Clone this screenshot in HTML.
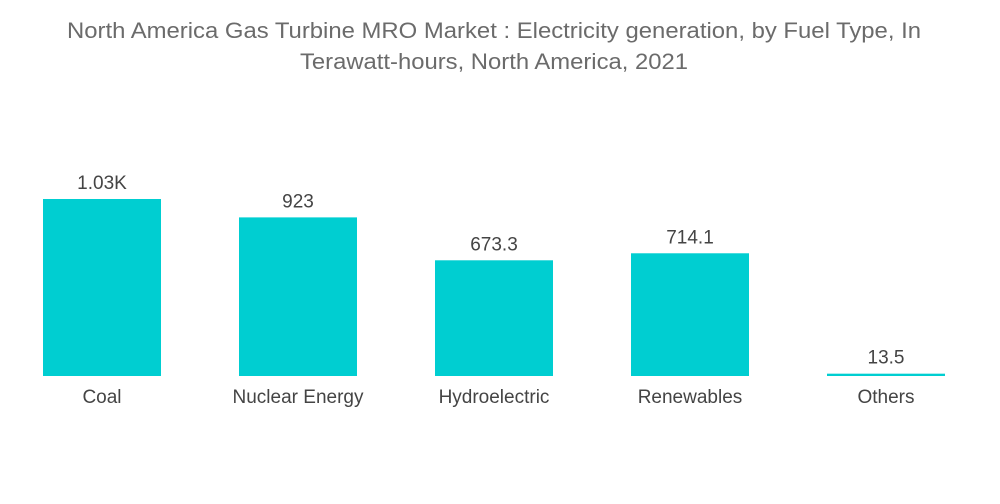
<!DOCTYPE html>
<html><head><meta charset="utf-8"><style>
html,body{margin:0;padding:0;background:#fff;width:1000px;height:504px;overflow:hidden}
svg text{font-family:"Liberation Sans",sans-serif}
</style></head><body>
<svg width="1000" height="504">
<text x="494" y="38" text-anchor="middle" font-size="22" fill="#6b6b6b" textLength="854" lengthAdjust="spacingAndGlyphs">North America Gas Turbine MRO Market : Electricity generation, by Fuel Type, In</text>
<text x="494" y="69" text-anchor="middle" font-size="22" fill="#6b6b6b" textLength="388" lengthAdjust="spacingAndGlyphs">Terawatt-hours, North America, 2021</text>
<g id="bars"></g>
</svg>
<script>
const categories=["Coal","Nuclear Energy","Hydroelectric","Renewables","Others"];
const values=[1030,923,673.3,714.1,13.5];
const valueLabels=["1.03K","923","673.3","714.1","13.5"];
const baseY=376, pxPerUnit=177/1030, bandStart=43, bandStep=196, barW=118;
const y=v=>baseY-v*pxPerUnit;
const x=i=>bandStart+i*bandStep;
const g=document.getElementById('bars');
const ns='http://www.w3.org/2000/svg';
categories.forEach((c,i)=>{
  const r=document.createElementNS(ns,'rect');
  
  
  const top=y(values[i]);
  r.setAttribute('x',x(i));r.setAttribute('y',top);
  r.setAttribute('width',barW);r.setAttribute('height',Math.max(baseY-top,2));
  r.setAttribute('fill','#00ced1');
  g.appendChild(r);
  const t=document.createElementNS(ns,'text');
  
  
  t.setAttribute('x',x(i)+barW/2);t.setAttribute('y',Math.min(top,baseY-2)-10);
  t.setAttribute('text-anchor','middle');t.setAttribute('font-size','19');t.setAttribute('fill','#444');
  t.textContent=valueLabels[i];g.appendChild(t);
  const l=document.createElementNS(ns,'text');
  
  
  l.setAttribute('x',x(i)+barW/2);l.setAttribute('y',403);
  l.setAttribute('text-anchor','middle');l.setAttribute('font-size','19');l.setAttribute('fill','#444');
  l.textContent=c;g.appendChild(l);
});
</script>
</body></html>
